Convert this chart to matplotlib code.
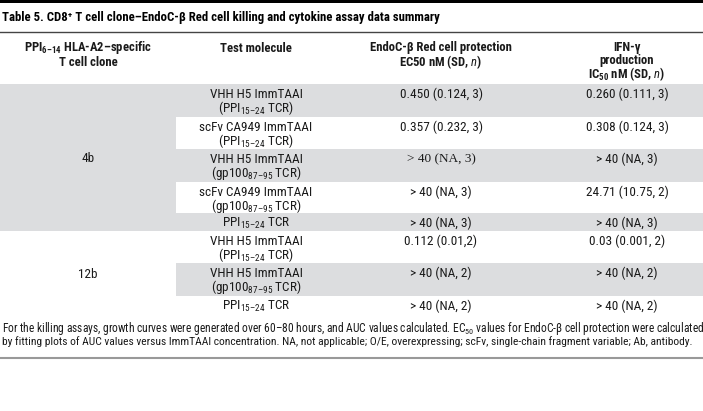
import matplotlib
matplotlib.use("Agg")
import matplotlib.pyplot as plt
from matplotlib.patches import Rectangle
from matplotlib import font_manager

avail = {f.name for f in font_manager.fontManager.ttflist}
main_font = "Roboto"
for cand in ["Roboto Condensed", "Liberation Sans Narrow", "Roboto"]:
    if cand in avail:
        main_font = cand
        break
plt.rcParams['font.family'] = [main_font, 'DejaVu Sans']
plt.rcParams['mathtext.fontset'] = 'custom'
plt.rcParams['mathtext.rm'] = main_font
plt.rcParams['mathtext.it'] = main_font + ':italic'
plt.rcParams['mathtext.bf'] = main_font + ':bold'

# ---- data ----
title = "Table 5. CD8\u207a T cell clone\u2013EndoC-\u03b2 Red cell killing and cytokine assay data summary"
clones = ["4b", "12b"]
clone_rows = [5, 3]
molecule_line1 = ["VHH H5 ImmTAAI", "scFv CA949 ImmTAAI", "VHH H5 ImmTAAI", "scFv CA949 ImmTAAI",
                  "PPI$_{\\mathregular{15\u201324}}$ TCR",
                  "VHH H5 ImmTAAI", "VHH H5 ImmTAAI", "PPI$_{\\mathregular{15\u201324}}$ TCR"]
molecule_line2 = ["(PPI$_{\\mathregular{15\u201324}}$ TCR)", "(PPI$_{\\mathregular{15\u201324}}$ TCR)",
                  "(gp100$_{\\mathregular{87\u201395}}$ TCR)", "(gp100$_{\\mathregular{87\u201395}}$ TCR)", "",
                  "(PPI$_{\\mathregular{15\u201324}}$ TCR)", "(gp100$_{\\mathregular{87\u201395}}$ TCR)", ""]
ec50 = ["0.450 (0.124, 3)", "0.357 (0.232, 3)", "> 40 (NA, 3)", "> 40 (NA, 3)", "> 40 (NA, 3)",
        "0.112 (0.01,2)", "> 40 (NA, 2)", "> 40 (NA, 2)"]
ic50 = ["0.260 (0.111, 3)", "0.308 (0.124, 3)", "> 40 (NA, 3)", "24.71 (10.75, 2)", "> 40 (NA, 3)",
        "0.03 (0.001, 2)", "> 40 (NA, 2)", "> 40 (NA, 2)"]
footnote1 = ("For the killing assays, growth curves were generated over 60\u201380 hours, and AUC values calculated. "
             "EC$_{\\mathregular{50}}$ values for EndoC-\u03b2 cell protection were calculated")
footnote2 = ("by fitting plots of AUC values versus ImmTAAI concentration. NA, not applicable; O/E, overexpressing; "
             "scFv, single-chain fragment variable; Ab, antibody.")

# ---- layout (pixel coordinates) ----
W, H = 703, 411
fig = plt.figure(figsize=(W / 100, H / 100), dpi=100)
ax = fig.add_axes([0, 0, 1, 1])
ax.set_xlim(0, W)
ax.set_ylim(H, 0)
ax.axis('off')
renderer = fig.canvas.get_renderer()


def fit_text(x, y, s, target_w, base_fs, **kw):
    t = ax.text(x, y, s, fontsize=base_fs, **kw)
    w = t.get_window_extent(renderer).width
    if w > target_w:
        t.set_fontsize(base_fs * target_w / w)
    return t


gray = "#dcdddf"
txt = "#1a1a1a"
col_x = [88, 256, 441, 627]
col2_left = 176
row_edges = [84, 117, 149, 182, 213, 231, 263, 296, 315]
fs = 9.5
hfs = 9.1

# top thick rule
ax.add_patch(Rectangle((0, 0), W, 3, color="black", lw=0))
fit_text(2, 17, title, 438, 9.6, fontweight='bold', va='center', ha='left', color="black")
ax.plot([0, W], [32.5, 32.5], color="#444444", lw=1.0)

# header
hb = dict(fontsize=hfs, fontweight='bold', ha='center', va='center', color=txt)
ax.text(col_x[0], 48, "PPI$_{\\mathregular{6\u201314}}$ HLA-A2\u2013specific", **hb)
ax.text(col_x[0], 62, "T cell clone", **hb)
ax.text(col_x[1], 48, "Test molecule", **hb)
ax.text(col_x[2], 48, "EndoC-\u03b2 Red cell protection", **hb)
ax.text(col_x[2], 62, "EC50 nM (SD, $\\mathbf{\\mathit{n}}$)", **hb)
ax.text(col_x[3], 47.5, "IFN-\u03b3", **hb)
ax.text(col_x[3], 60.5, "production", **hb)
ax.text(col_x[3], 74.5, "IC$_{\\mathregular{50}}$ nM (SD, $\\mathbf{\\mathit{n}}$)", **hb)

# body backgrounds
start = 0
for ci, (clone, nrows) in enumerate(zip(clones, clone_rows)):
    top = row_edges[start]
    bot = row_edges[start + nrows]
    if ci % 2 == 0:
        ax.add_patch(Rectangle((0, top), col2_left, bot - top, color=gray, lw=0))
    ax.text(col_x[0], (top + bot) / 2 + 1, clone, fontsize=fs, ha='center', va='center', color=txt)
    start += nrows

for i in range(len(molecule_line1)):
    top, bot = row_edges[i], row_edges[i + 1]
    if i % 2 == 0:
        ax.add_patch(Rectangle((col2_left, top), W - col2_left, bot - top, color=gray, lw=0))
    y1 = top + 10
    ax.text(col_x[1], y1, molecule_line1[i], fontsize=fs, ha='center', va='center', color=txt)
    if molecule_line2[i]:
        ax.text(col_x[1], y1 + 14, molecule_line2[i], fontsize=fs, ha='center', va='center', color=txt)
    fam = ['Liberation Serif'] if i == 2 else [main_font, 'DejaVu Sans']
    ax.text(col_x[2], y1, ec50[i], fontsize=fs, ha='center', va='center', color=txt, family=fam)
    ax.text(col_x[3], y1, ic50[i], fontsize=fs, ha='center', va='center', color=txt)

# footnote
fit_text(2, 328, footnote1, 699, 8.6, ha='left', va='center', color=txt)
fit_text(2, 342, footnote2, 699 * 0.985, 8.6, ha='left', va='center', color=txt)
ax.plot([0, W], [358, 358], color="#999999", lw=1.5)

fig.savefig("out.png", dpi=100)
